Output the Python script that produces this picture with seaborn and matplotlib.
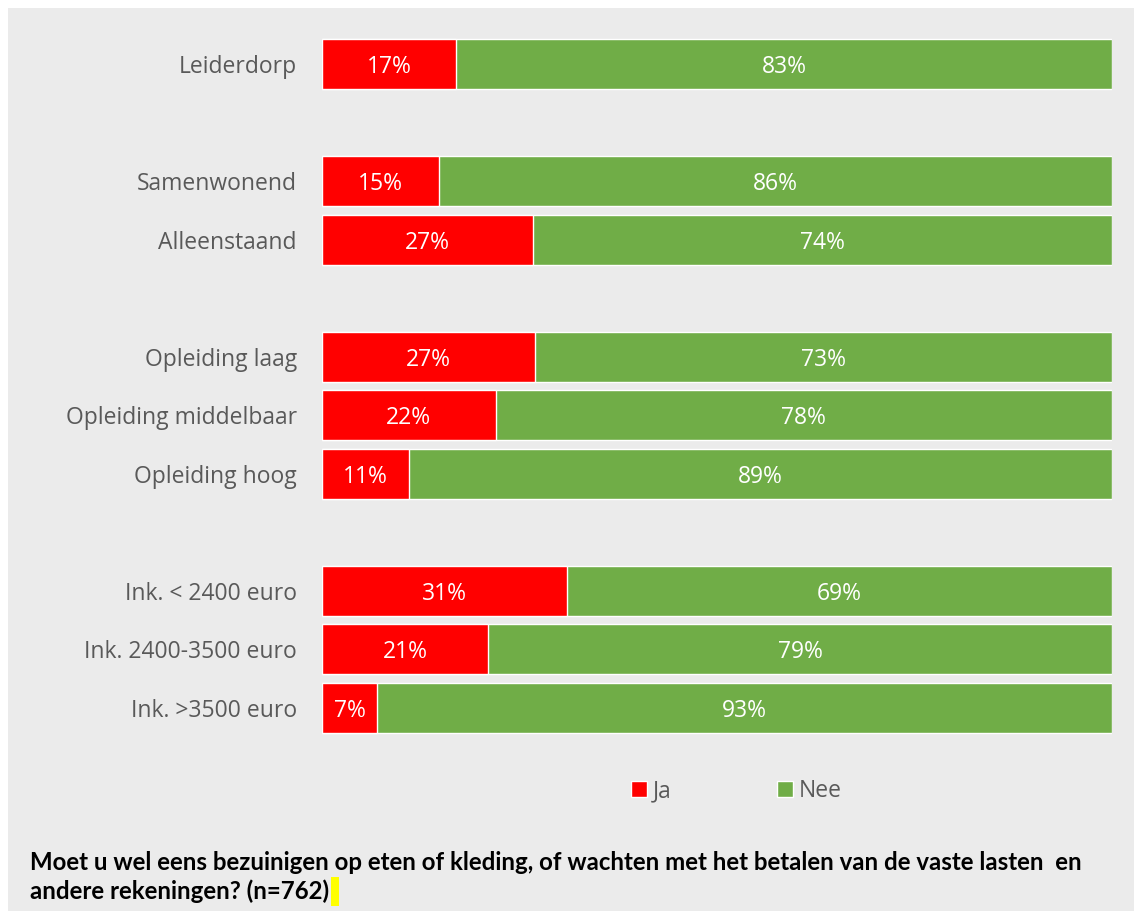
import pandas as pd
import seaborn as sns
import matplotlib.pyplot as plt
from matplotlib.patches import Rectangle, Patch

# data
categories = ["Leiderdorp", " ", "Samenwonend", "Alleenstaand", "  ",
              "Opleiding laag", "Opleiding middelbaar", "Opleiding hoog", "   ",
              "Ink. < 2400 euro", "Ink. 2400-3500 euro", "Ink. >3500 euro"]
ja = [17, None, 15, 27, None, 27, 22, 11, None, 31, 21, 7]
nee = [83, None, 86, 74, None, 73, 78, 89, None, 69, 79, 93]
title = ("Moet u wel eens bezuinigen op eten of kleding, of wachten met het betalen van de vaste lasten  en\n"
         "andere rekeningen? (n=762)")

red = "#ff0000"
green = "#70ad47"
grey_txt = "#595959"
bg = "#ebebeb"

df = pd.DataFrame({"cat": categories, "ja": ja, "nee": nee}).dropna()
df["total"] = df["ja"] + df["nee"]
df["ja_s"] = df["ja"] / df["total"]
df["full"] = 1.0

sns.set_style("white")
plt.rcParams["font.family"] = ["Open Sans", "DejaVu Sans"]

fig = plt.figure(figsize=(11.34, 9.11), dpi=100)
fig.patch.set_facecolor("white")
fig.patches.append(Rectangle((8 / 1134, 0), 1 - 8 / 1134, 1 - 8 / 911,
                             transform=fig.transFigure, facecolor=bg,
                             edgecolor="none", zorder=-10))

ax = fig.add_axes([322 / 1134, 1 - 737 / 911, 790 / 1134, 702 / 911])
ax.set_facecolor("none")

sns.barplot(data=df, y="cat", x="full", order=categories, color=green,
            width=0.85, saturation=1, ax=ax, orient="h")
sns.barplot(data=df, y="cat", x="ja_s", order=categories, color=red,
            width=0.85, saturation=1, ax=ax, orient="h")

ax.set_xlim(0, 1)
ax.set_ylim(11.5, -0.5)
ax.set_xlabel("")
ax.set_ylabel("")
ax.set_xticks([])
ax.tick_params(axis="y", length=0, pad=18, labelsize=16.5, labelcolor=grey_txt)
for s in ax.spines.values():
    s.set_visible(False)

# value labels
pos = {c: i for i, c in enumerate(categories)}
for _, r in df.iterrows():
    y = pos[r["cat"]]
    ax.text(r["ja_s"] / 2, y, f"{int(r['ja'])}%", ha="center", va="center_baseline",
            color="white", fontsize=16.5)
    ax.text(r["ja_s"] + (1 - r["ja_s"]) / 2, y, f"{int(r['nee'])}%",
            ha="center", va="center_baseline", color="white", fontsize=16.5)

handles = [Patch(facecolor=red, label="Ja"), Patch(facecolor=green, label="Nee")]
leg = fig.legend(handles=handles, loc="center", bbox_to_anchor=(736 / 1134, 1 - 791 / 911),
                 ncol=2, frameon=False, fontsize=16.5, handlelength=0.7,
                 handleheight=0.7, handletextpad=0.25, columnspacing=4.6)
for t in leg.get_texts():
    t.set_color(grey_txt)

fig.text(30 / 1134, 1 - 851 / 911, title, ha="left", va="top",
         fontsize=17.3, color="black", fontweight="bold", linespacing=1.3,
         family=["Lato", "DejaVu Sans"])
fig.patches.append(Rectangle((331 / 1134, 1 - 906 / 911), 8 / 1134, 29 / 911,
                             transform=fig.transFigure, facecolor="#ffff00",
                             edgecolor="none", zorder=-5))

plt.savefig("out.png", dpi=100)
